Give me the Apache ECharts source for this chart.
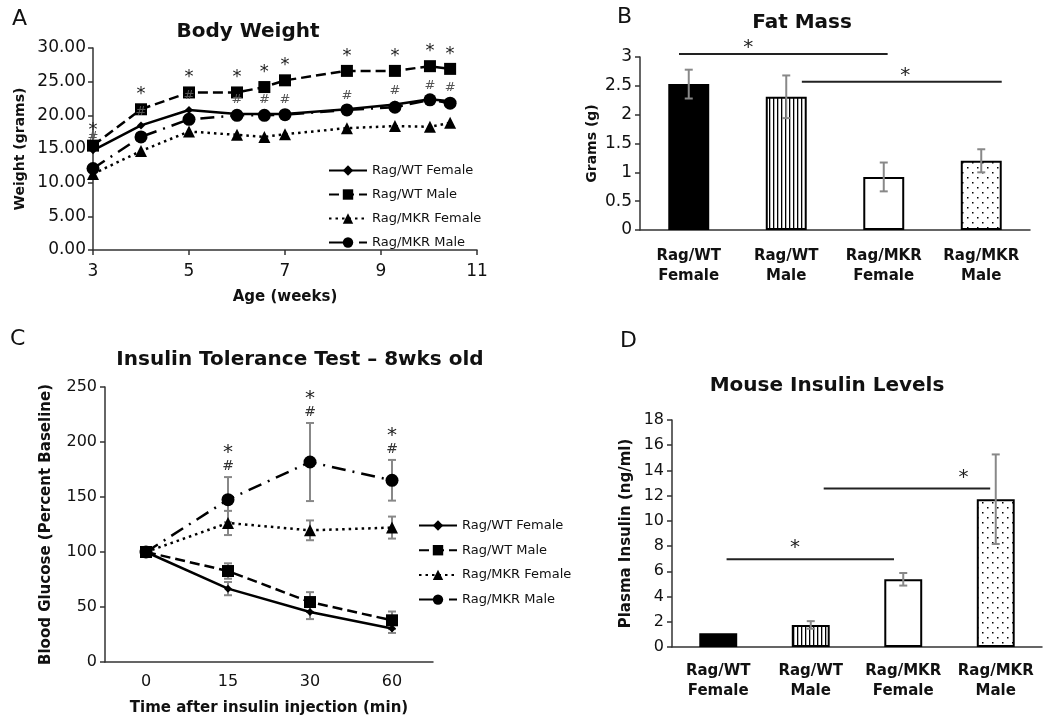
<!DOCTYPE html>
<html>
<head>
<meta charset="utf-8">
<script src="https://cdn.jsdelivr.net/npm/echarts@6/dist/echarts.min.js"></script>
<style>
  html, body { margin: 0; padding: 0; background: #fff; }
  #main { width: 1050px; height: 725px; }
</style>
</head>
<body>
<div id="main"></div>
<script>
var FONT = '"DejaVu Sans", "Liberation Sans", sans-serif';
var seriesNames = ['Rag/WT Female', 'Rag/WT Male', 'Rag/MKR Female', 'Rag/MKR Male'];

// A - body weight
var ageWeeks = [3, 4, 5, 6, 6.57, 7, 8.29, 9.29, 10.02, 10.44];
var wtFemaleWt = [14.8, 18.5, 20.8, 20.2, 20.2, 20.2, 20.9, 21.6, 22.4, 22.1];
var wtMaleWt = [15.5, 20.9, 23.4, 23.4, 24.2, 25.2, 26.6, 26.6, 27.3, 26.9];
var mkrFemaleWt = [11.3, 14.7, 17.6, 17.1, 16.8, 17.2, 18.1, 18.4, 18.3, 18.9];
var mkrMaleWt = [12.1, 16.8, 19.4, 20.0, 20.0, 20.1, 20.8, 21.2, 22.3, 21.8];

// B - fat mass
var groupLabels = ['Rag/WT\nFemale', 'Rag/WT\nMale', 'Rag/MKR\nFemale', 'Rag/MKR\nMale'];
var fatMass = [2.53, 2.31, 0.92, 1.20];
var fatErr = [0.25, 0.37, 0.25, 0.20];
// [from, to, height, star position] in bar index units
var fatBrackets = [[-0.1, 2.04, 3.05, 0.61], [1.16, 3.21, 2.57, 2.22]];

// C - insulin tolerance test
var timeCats = ['0', '15', '30', '60'];
var wtFemaleGlu = [100, 66.7, 45.5, 30.4];
var wtFemaleErr = [0, 6, 6.5, 4];
var wtMaleGlu = [100, 82.7, 54.5, 37.9];
var wtMaleErr = [0, 7, 9, 8];
var mkrFemaleGlu = [100, 126.4, 119.7, 122.2];
var mkrFemaleErr = [0, 11, 9, 10];
var mkrMaleGlu = [100, 147.6, 181.8, 165.2];
var mkrMaleErr = [0, 20.5, 35.5, 18.5];
var sigTimes = [1, 2, 3];

// D - insulin levels
var insulin = [1.1, 1.75, 5.37, 11.72];
var insulinErr = [0, 0.3, 0.5, 3.55];
var insulinBrackets = [[0.09, 1.9, 6.96, 0.83], [1.14, 2.94, 12.57, 2.65]];

var myChart = echarts.init(document.getElementById('main'));

// fill patterns
function makePattern(kind) {
    var c = document.createElement('canvas');
    var ctx = c.getContext('2d');
    if (kind == 'stripes') {
        c.width = 4; c.height = 4;
        ctx.fillStyle = '#fff'; ctx.fillRect(0, 0, 4, 4);
        ctx.fillStyle = '#000'; ctx.fillRect(1, 0, 1.3, 4);
    } else {
        c.width = 10; c.height = 10;
        ctx.fillStyle = '#fff'; ctx.fillRect(0, 0, 10, 10);
        ctx.fillStyle = '#000';
        ctx.fillRect(2, 2, 1.5, 1.5);
        ctx.fillRect(7, 7, 1.5, 1.5);
    }
    return { image: c, repeat: 'repeat' };
}
var barFills = ['#000', makePattern('stripes'), '#fff', makePattern('dots')];

function zip(xs, ys) {
    return xs.map(function (x, i) { return [x, ys[i]]; });
}

function barData(vals) {
    return vals.map(function (v, i) {
        return { value: v, itemStyle: { color: barFills[i], borderColor: '#000', borderWidth: 2 } };
    });
}

function errData(vals, errs) {
    var out = [];
    vals.forEach(function (v, i) { if (errs[i] > 0) out.push([i, v, errs[i]]); });
    return out;
}

function errRender(params, api) {
    var x = api.value(0), m = api.value(1), e = api.value(2);
    var t = api.coord([x, m + e]), b = api.coord([x, m - e]);
    var st = { stroke: '#888', lineWidth: 2 };
    return {
        type: 'group', children: [
            { type: 'line', shape: { x1: t[0], y1: t[1], x2: b[0], y2: b[1] }, style: st },
            { type: 'line', shape: { x1: t[0] - 4, y1: t[1], x2: t[0] + 4, y2: t[1] }, style: st },
            { type: 'line', shape: { x1: b[0] - 4, y1: b[1], x2: b[0] + 4, y2: b[1] }, style: st }
        ]
    };
}

function textMarks(text, dy, size, color) {
    return function (params, api) {
        var p = api.coord([api.value(0), api.value(1)]);
        return {
            type: 'text', x: p[0], y: p[1] + dy,
            style: { text: text, fontSize: size, fontFamily: FONT, fill: color,
                     align: 'center', verticalAlign: 'middle', textAlign: 'center', textVerticalAlign: 'middle' }
        };
    };
}

function bracketRender(starDy) {
    return function (params, api) {
        var a = api.coord([api.value(0), api.value(2)]);
        var b = api.coord([api.value(1), api.value(2)]);
        var s = api.coord([api.value(3), api.value(2)]);
        return {
            type: 'group', children: [
                { type: 'line', shape: { x1: a[0], y1: a[1], x2: b[0], y2: b[1] }, style: { stroke: '#222', lineWidth: 2 } },
                { type: 'text', x: s[0], y: s[1] + starDy,
                  style: { text: '*', fontSize: 20, fontFamily: FONT, fill: '#222',
                           align: 'center', verticalAlign: 'middle', textAlign: 'center', textVerticalAlign: 'middle' } }
            ]
        };
    };
}

var lineStyles = [
    { type: 'solid', symbol: 'diamond', size: 8 },
    { type: [10, 5], symbol: 'rect', size: 12 },
    { type: [2.5, 4], symbol: 'triangle', size: 12 },
    { type: [14, 7, 2, 7], symbol: 'circle', size: 13 }
];

function lineSeries(i, data, xi) {
    return {
        name: seriesNames[i], type: 'line', xAxisIndex: xi, yAxisIndex: xi,
        data: data, symbol: lineStyles[i].symbol, symbolSize: lineStyles[i].size,
        itemStyle: { color: '#000' },
        lineStyle: { color: '#000', width: 2.5, type: lineStyles[i].type },
        emphasis: { disabled: true }, animation: false
    };
}

var axisLine = { lineStyle: { color: '#333', width: 1.5 } };
var yAxisLine = { show: true, onZero: false, lineStyle: { color: '#333', width: 1.5 } };
var axisTick = { lineStyle: { color: '#333', width: 1.5 }, length: 5 };
var yAxisTick = { show: true, length: 5, lineStyle: { color: '#333', width: 1.5 } };
function tickLabel(size, extra) {
    var o = { color: '#111', fontSize: size, fontFamily: FONT };
    for (var k in extra) o[k] = extra[k];
    return o;
}
function axisName(size) {
    return { color: '#111', fontSize: size, fontFamily: FONT, fontWeight: 'bold' };
}

var option = {
    animation: false,
    textStyle: { fontFamily: FONT },
    grid: [
        { left: 93, top: 48, width: 384, height: 202 },
        { left: 640, top: 57, width: 390, height: 173 },
        { left: 105, top: 387, width: 328, height: 275 },
        { left: 672, top: 420, width: 370, height: 227 }
    ],
    xAxis: [
        { gridIndex: 0, type: 'value', min: 3, max: 11, interval: 2,
          name: 'Age (weeks)', nameLocation: 'middle', nameGap: 40, nameTextStyle: axisName(15),
          axisLine: axisLine, axisTick: axisTick, splitLine: { show: false },
          axisLabel: tickLabel(17, { margin: 13 }) },
        { gridIndex: 1, type: 'category', data: groupLabels,
          axisLine: axisLine, axisTick: axisTick,
          axisLabel: tickLabel(15, { fontWeight: 'bold', lineHeight: 20, margin: 16, interval: 0 }) },
        { gridIndex: 2, type: 'category', data: timeCats,
          name: 'Time after insulin injection (min)', nameLocation: 'middle', nameGap: 39, nameTextStyle: axisName(15),
          axisLine: axisLine, axisTick: { inside: true, length: 5, lineStyle: { color: '#333', width: 1.5 } },
          axisLabel: tickLabel(16, { margin: 12, interval: 0 }) },
        { gridIndex: 3, type: 'category', data: groupLabels,
          axisLine: axisLine, axisTick: axisTick,
          axisLabel: tickLabel(15, { fontWeight: 'bold', lineHeight: 20, margin: 14, interval: 0 }) },
        { gridIndex: 1, type: 'value', min: -0.5, max: 3.5, show: false },
        { gridIndex: 3, type: 'value', min: -0.5, max: 3.5, show: false }
    ],
    yAxis: [
        { gridIndex: 0, type: 'value', min: 0, max: 30, interval: 5,
          name: 'Weight (grams)', nameLocation: 'middle', nameGap: 66, nameTextStyle: axisName(14),
          axisLine: yAxisLine, axisTick: yAxisTick, splitLine: { show: false },
          axisLabel: tickLabel(17, { margin: 7, formatter: function (v) { return v.toFixed(2); } }) },
        { gridIndex: 1, type: 'value', min: 0, max: 3, interval: 0.5,
          name: 'Grams (g)', nameLocation: 'middle', nameGap: 41, nameTextStyle: axisName(14),
          axisLine: yAxisLine, axisTick: yAxisTick, splitLine: { show: false },
          axisLabel: tickLabel(17, { margin: 8 }) },
        { gridIndex: 2, type: 'value', min: 0, max: 250, interval: 50,
          name: 'Blood Glucose (Percent Baseline)', nameLocation: 'middle', nameGap: 51, nameTextStyle: axisName(15),
          axisLine: yAxisLine, axisTick: yAxisTick, splitLine: { show: false },
          axisLabel: tickLabel(16, { margin: 8 }) },
        { gridIndex: 3, type: 'value', min: 0, max: 18, interval: 2,
          name: 'Plasma Insulin (ng/ml)', nameLocation: 'middle', nameGap: 38, nameTextStyle: axisName(15),
          axisLine: yAxisLine, axisTick: yAxisTick, splitLine: { show: false },
          axisLabel: tickLabel(16, { margin: 8 }) }
    ],
    legend: [
        { data: seriesNames, orient: 'vertical', left: 323, top: 159, itemWidth: 38, itemHeight: 13, itemGap: 11,
          textStyle: { fontSize: 13, fontFamily: FONT, color: '#111' }, selectedMode: false },
        { data: seriesNames, orient: 'vertical', left: 413, top: 514, itemWidth: 38, itemHeight: 13, itemGap: 11.7,
          textStyle: { fontSize: 13, fontFamily: FONT, color: '#111' }, selectedMode: false }
    ],
    graphic: [
        { type: 'text', x: 12, y: 8, style: { text: 'A', fontSize: 22, fontFamily: FONT, fill: '#111' } },
        { type: 'text', x: 617, y: 6, style: { text: 'B', fontSize: 22, fontFamily: FONT, fill: '#111' } },
        { type: 'text', x: 10, y: 328, style: { text: 'C', fontSize: 22, fontFamily: FONT, fill: '#111' } },
        { type: 'text', x: 620, y: 330, style: { text: 'D', fontSize: 22, fontFamily: FONT, fill: '#111' } },
        { type: 'text', x: 248, y: 32, style: { text: 'Body Weight', fontSize: 20, fontWeight: 'bold', fontFamily: FONT, fill: '#111',
          align: 'center', verticalAlign: 'middle', textAlign: 'center', textVerticalAlign: 'middle' } },
        { type: 'text', x: 802, y: 23, style: { text: 'Fat Mass', fontSize: 20, fontWeight: 'bold', fontFamily: FONT, fill: '#111',
          align: 'center', verticalAlign: 'middle', textAlign: 'center', textVerticalAlign: 'middle' } },
        { type: 'text', x: 300, y: 360, style: { text: 'Insulin Tolerance Test \u2013 8wks old', fontSize: 20, fontWeight: 'bold', fontFamily: FONT, fill: '#111',
          align: 'center', verticalAlign: 'middle', textAlign: 'center', textVerticalAlign: 'middle' } },
        { type: 'text', x: 827, y: 386, style: { text: 'Mouse Insulin Levels', fontSize: 20, fontWeight: 'bold', fontFamily: FONT, fill: '#111',
          align: 'center', verticalAlign: 'middle', textAlign: 'center', textVerticalAlign: 'middle' } }
    ],
    series: [
        // A
        lineSeries(0, zip(ageWeeks, wtFemaleWt), 0),
        lineSeries(1, zip(ageWeeks, wtMaleWt), 0),
        lineSeries(2, zip(ageWeeks, mkrFemaleWt), 0),
        lineSeries(3, zip(ageWeeks, mkrMaleWt), 0),
        { type: 'custom', xAxisIndex: 0, yAxisIndex: 0, data: zip(ageWeeks, wtMaleWt),
          renderItem: textMarks('*', -15, 18, '#222'), z: 5 },
        { type: 'custom', xAxisIndex: 0, yAxisIndex: 0, data: zip(ageWeeks, wtFemaleWt),
          renderItem: textMarks('#', -14, 13, '#555'), z: 5 },
        // B
        { type: 'bar', xAxisIndex: 1, yAxisIndex: 1, data: barData(fatMass), barWidth: '42%' },
        { type: 'custom', xAxisIndex: 1, yAxisIndex: 1, data: errData(fatMass, fatErr), renderItem: errRender, z: 5 },
        { type: 'custom', xAxisIndex: 4, yAxisIndex: 1, data: fatBrackets, renderItem: bracketRender(-6), z: 5 },
        // C
        lineSeries(0, wtFemaleGlu, 2),
        lineSeries(1, wtMaleGlu, 2),
        lineSeries(2, mkrFemaleGlu, 2),
        lineSeries(3, mkrMaleGlu, 2),
        { type: 'custom', xAxisIndex: 2, yAxisIndex: 2, renderItem: errRender, z: 1,
          data: errData(wtFemaleGlu, wtFemaleErr).concat(errData(wtMaleGlu, wtMaleErr),
                errData(mkrFemaleGlu, mkrFemaleErr), errData(mkrMaleGlu, mkrMaleErr)) },
        { type: 'custom', xAxisIndex: 2, yAxisIndex: 2, renderItem: textMarks('*', -24, 20, '#222'), z: 5,
          data: sigTimes.map(function (i) { return [i, mkrMaleGlu[i] + mkrMaleErr[i]]; }) },
        { type: 'custom', xAxisIndex: 2, yAxisIndex: 2, renderItem: textMarks('#', -11, 14, '#333'), z: 5,
          data: sigTimes.map(function (i) { return [i, mkrMaleGlu[i] + mkrMaleErr[i]]; }) },
        // D
        { type: 'bar', xAxisIndex: 3, yAxisIndex: 3, data: barData(insulin), barWidth: '41%' },
        { type: 'custom', xAxisIndex: 3, yAxisIndex: 3, data: errData(insulin, insulinErr), renderItem: errRender, z: 5 },
        { type: 'custom', xAxisIndex: 5, yAxisIndex: 3, data: insulinBrackets, renderItem: bracketRender(-11), z: 5 }
    ]
};
myChart.setOption(option);
</script>
</body>
</html>
